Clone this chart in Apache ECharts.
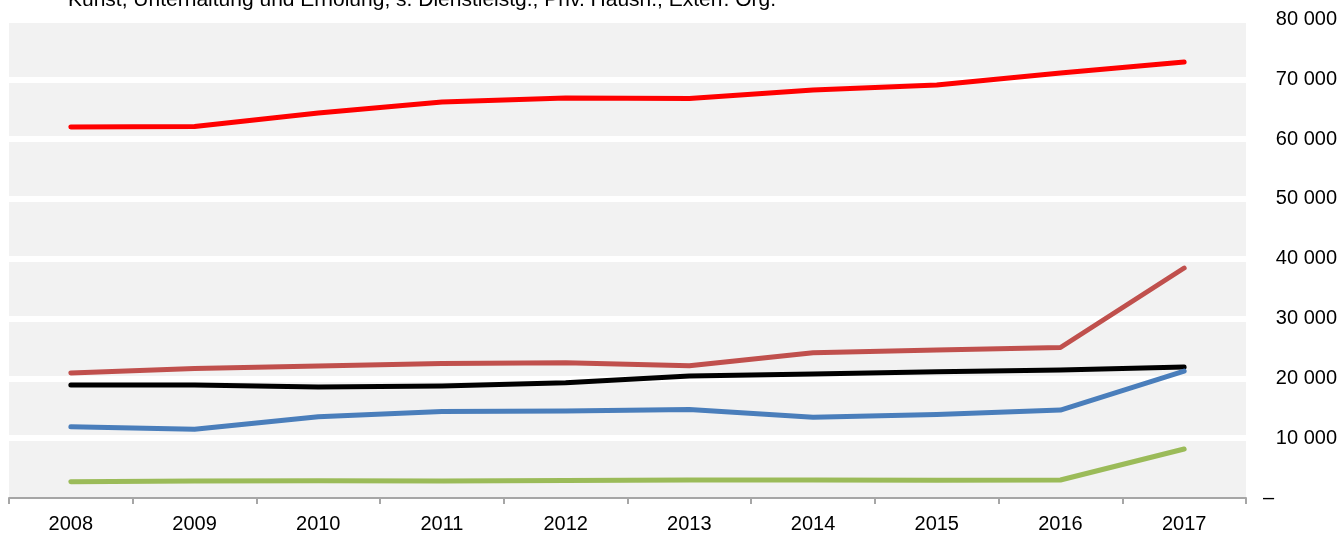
<!DOCTYPE html>
<html>
<head>
<meta charset="utf-8">
<script src="https://cdn.jsdelivr.net/npm/echarts@6/dist/echarts.min.js"></script>
<style>
  html, body { margin: 0; padding: 0; background: #fff; }
  #chart { width: 1339px; height: 533px; }
</style>
</head>
<body>
<div id="chart"></div>
<script>
  const titleText = 'Kunst, Unterhaltung und Erholung; s. Dienstleistg.; Priv. Haush.; Exterr. Org.'
  const years = ['2008', '2009', '2010', '2011', '2012', '2013', '2014', '2015', '2016', '2017']

  const redValues = [62030, 62110, 64370, 66210, 66880, 66800, 68220, 69050, 71060, 72900]
  const darkRedValues = [20900, 21650, 22070, 22490, 22620, 22120, 24290, 24740, 25160, 38450]
  const blackValues = [18890, 18890, 18560, 18730, 19280, 20400, 20730, 21120, 21400, 21900]
  const blueValues = [11920, 11490, 13590, 14460, 14550, 14800, 13490, 13960, 14710, 21230]
  const greenValues = [2730, 2840, 2890, 2840, 2930, 3010, 3010, 2960, 3010, 8190]

  const font = 'Liberation Sans'

  function lineSeries(data, color) {
    return {
      type: 'line',
      data: data,
      showSymbol: false,
      symbol: 'none',
      lineStyle: { color: color, width: 5, cap: 'round', join: 'round' },
      itemStyle: { color: color }
    }
  }

  const chart = echarts.init(document.getElementById('chart'))
  chart.setOption({
    animation: false,
    title: {
      text: titleText,
      left: 68,
      top: -10,
      padding: 0,
      textStyle: { fontFamily: font, fontSize: 21, fontWeight: 'normal', color: '#000' }
    },
    grid: {
      left: 9,
      right: 93,
      top: 19.5,
      bottom: 35,
      outerBoundsMode: 'none',
      show: true,
      backgroundColor: '#f2f2f2',
      borderWidth: 0
    },
    xAxis: {
      type: 'category',
      data: years,
      boundaryGap: true,
      axisLine: { lineStyle: { color: '#a6a6a6', width: 2 } },
      axisTick: { show: true, length: 6, lineStyle: { color: '#a6a6a6', width: 2 } },
      axisLabel: { fontFamily: font, fontSize: 20, color: '#000', margin: 16 },
      splitLine: { show: false }
    },
    yAxis: {
      type: 'value',
      position: 'right',
      min: 0,
      max: 80000,
      interval: 10000,
      axisLine: { show: false },
      axisTick: { show: false },
      axisLabel: {
        fontFamily: font,
        fontSize: 20,
        color: '#000',
        align: 'right',
        margin: 91,
        formatter: function (v) {
          if (v === 0) return '{z|–}'
          return String(v).replace(/\B(?=(\d{3})+(?!\d))/g, ' ')
        },
        rich: {
          z: { fontFamily: font, fontSize: 20, color: '#000', padding: [0, 63, 0, 0] }
        }
      },
      splitLine: {
        show: true,
        lineStyle: {
          width: 6,
          color: ['rgba(0,0,0,0)', '#fff', '#fff', '#fff', '#fff', '#fff', '#fff', '#fff', '#fff']
        }
      }
    },
    series: [
      lineSeries(redValues, '#ff0000'),
      lineSeries(darkRedValues, '#c0504d'),
      lineSeries(greenValues, '#9bbb59'),
      lineSeries(blackValues, '#000000'),
      lineSeries(blueValues, '#4a7ebb')
    ]
  })
</script>
</body>
</html>
